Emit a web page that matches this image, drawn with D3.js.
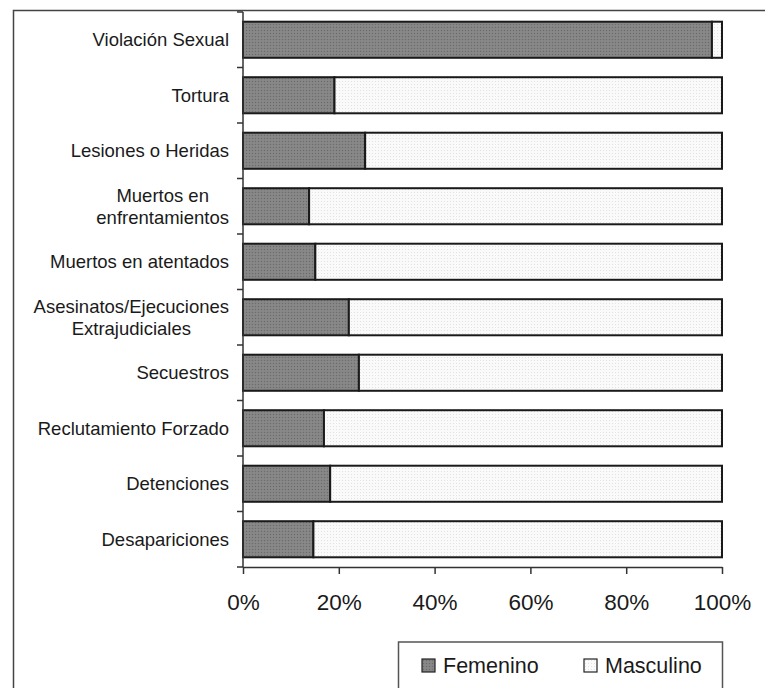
<!DOCTYPE html>
<html>
<head>
<meta charset="utf-8">
<script src="https://cdn.jsdelivr.net/npm/d3@7"></script>
<style>
  html, body { margin: 0; padding: 0; background: #fff; }
  svg { display: block; font-family: "Liberation Sans", Arial, sans-serif; }
</style>
</head>
<body>
<div id="chart"></div>
<script>
const categories = [
  "Violación Sexual",
  "Tortura",
  "Lesiones o Heridas",
  "Muertos en\nenfrentamientos",
  "Muertos en atentados",
  "Asesinatos/Ejecuciones\nExtrajudiciales",
  "Secuestros",
  "Reclutamiento Forzado",
  "Detenciones",
  "Desapariciones"
];
const femenino = [97.9, 19.1, 25.5, 13.8, 15.1, 22.1, 24.2, 16.9, 18.2, 14.7];
const masculino = femenino.map(v => 100 - v);
const seriesNames = ["Femenino", "Masculino"];
const tickValues = [0, 20, 40, 60, 80, 100];

const W = 765, H = 688;
const margin = { left: 243, right: 43, top: 12, bottom: 121 };

const svg = d3.select("#chart").append("svg")
  .attr("width", W).attr("height", H);

const defs = svg.append("defs");
// dotted textures
const pDark = defs.append("pattern").attr("id", "pDark")
  .attr("width", 3).attr("height", 3).attr("patternUnits", "userSpaceOnUse");
pDark.append("rect").attr("width", 3).attr("height", 3).attr("fill", "#848484");
pDark.append("rect").attr("width", 1).attr("height", 1).attr("fill", "#6c6c6c");
pDark.append("rect").attr("x", 1.5).attr("y", 1.5).attr("width", 1).attr("height", 1).attr("fill", "#959595");
const pLight = defs.append("pattern").attr("id", "pLight")
  .attr("width", 3).attr("height", 3).attr("patternUnits", "userSpaceOnUse");
pLight.append("rect").attr("width", 3).attr("height", 3).attr("fill", "#fafafa");
pLight.append("rect").attr("width", 1).attr("height", 1).attr("fill", "#e2e2e2");

const fills = ["url(#pDark)", "url(#pLight)"];

// outer frame (cropped at right and bottom)
svg.append("path")
  .attr("d", `M13.5,${H + 2} L13.5,10.5 L${W + 2},10.5`)
  .attr("fill", "none").attr("stroke", "#444").attr("stroke-width", 1.5);

const x = d3.scaleLinear().domain([0, 100]).range([margin.left, W - margin.right]);
const y = d3.scaleBand().domain(categories).range([margin.top, H - margin.bottom])
  .paddingInner(0.35).paddingOuter(0.175);

const data = categories.map((c, i) => ({ c, vals: [femenino[i], masculino[i]] }));
const stack = data.map(d => {
  let acc = 0;
  return d.vals.map((v, k) => { const s = { c: d.c, k, x0: acc, x1: acc + v }; acc += v; return s; });
}).flat();

svg.append("g").selectAll("rect").data(stack).join("rect")
  .attr("x", d => x(d.x0))
  .attr("y", d => y(d.c))
  .attr("width", d => x(d.x1) - x(d.x0))
  .attr("height", y.bandwidth())
  .attr("fill", d => fills[d.k])
  .attr("stroke", "#1a1a1a")
  .attr("stroke-width", 2);

// x axis
const xAxis = svg.append("g").attr("transform", `translate(0,${H - margin.bottom})`)
  .call(d3.axisBottom(x).tickValues(tickValues).tickFormat(d => d + "%").tickSize(7).tickSizeOuter(0));
xAxis.select(".domain").attr("stroke", "#333").attr("stroke-width", 1.5);
xAxis.selectAll(".tick line").attr("stroke", "#333").attr("stroke-width", 1.5);
xAxis.selectAll(".tick text").attr("font-size", "22.5px").attr("fill", "#1a1a1a")
  .attr("font-family", "Liberation Sans, Arial, sans-serif").attr("dy", null).attr("y", 43);

// y axis line + ticks at band boundaries
const yAxisG = svg.append("g");
yAxisG.append("line").attr("x1", margin.left).attr("x2", margin.left)
  .attr("y1", margin.top).attr("y2", H - margin.bottom)
  .attr("stroke", "#333").attr("stroke-width", 1.5);
const step = y.step();
const bounds = d3.range(categories.length + 1).map(i => margin.top + i * step);
yAxisG.selectAll("line.tk").data(bounds).join("line").attr("class", "tk")
  .attr("x1", margin.left - 6).attr("x2", margin.left)
  .attr("y1", d => d).attr("y2", d => d)
  .attr("stroke", "#333").attr("stroke-width", 1.5);

// category labels
const labelRight = margin.left - 14;
categories.forEach(c => {
  const lines = c.split("\n");
  const cy = y(c) + y.bandwidth() / 2;
  const lh = 22;
  const g = svg.append("g");
  const texts = lines.map((ln, i) => g.append("text")
    .attr("y", cy + (i - (lines.length - 1) / 2) * lh)
    .attr("dy", "0.35em")
    .attr("font-size", "18.5px").attr("fill", "#1a1a1a")
    .text(ln));
  const maxW = d3.max(texts, t => t.node().getComputedTextLength());
  if (lines.length === 1) {
    texts[0].attr("x", labelRight).attr("text-anchor", "end");
  } else {
    texts.forEach(t => t.attr("x", labelRight - maxW / 2).attr("text-anchor", "middle"));
  }
});

// legend
const lg = svg.append("g");
lg.append("path")
  .attr("d", `M398.5,${H + 2} L398.5,642 L722.5,642 L722.5,${H + 2}`)
  .attr("fill", "#fff").attr("stroke", "#555").attr("stroke-width", 1.5);
const legX = [422, 584];
seriesNames.forEach((s, i) => {
  lg.append("rect").attr("x", legX[i]).attr("y", 659).attr("width", 13).attr("height", 13)
    .attr("fill", fills[i]).attr("stroke", "#222").attr("stroke-width", 1.2);
  lg.append("text").attr("x", legX[i] + 21).attr("y", 665.5).attr("dy", "0.35em")
    .attr("font-size", "21.5px").attr("fill", "#1a1a1a").text(s);
});
</script>
</body>
</html>
